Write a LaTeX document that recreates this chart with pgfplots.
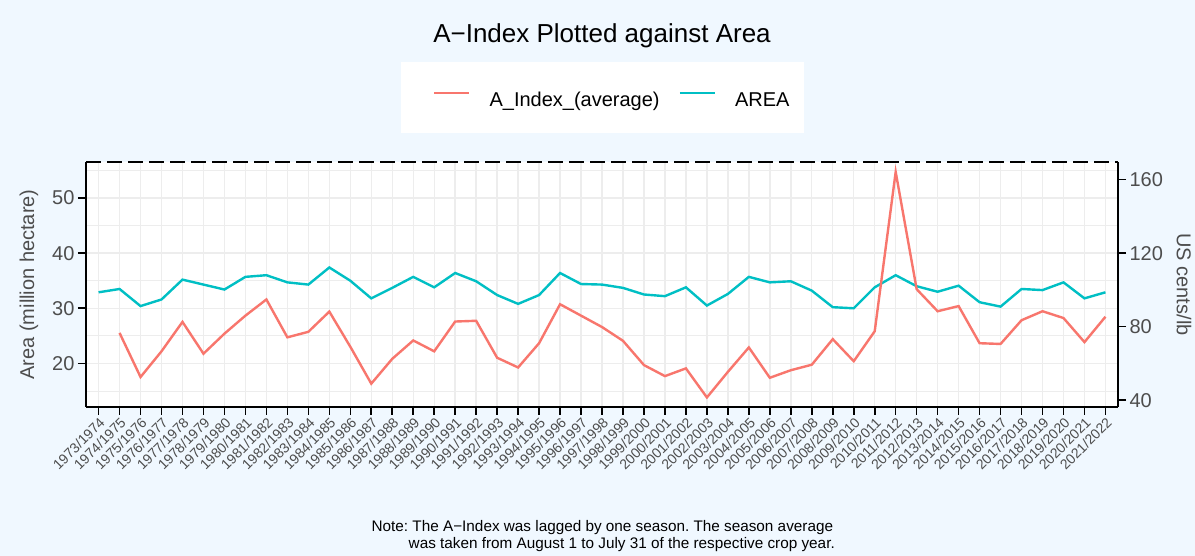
\documentclass[border=0pt]{standalone}
\usepackage{pgfplots}
\pgfplotsset{compat=1.18}
\usepackage{pgfplotstable}
\usepackage{fontspec}
\setmainfont{Liberation Sans}
\frenchspacing

\definecolor{bgblue}{HTML}{F0F8FF}
\definecolor{aidx}{HTML}{F8766D}
\definecolor{areac}{HTML}{00BFC4}
\definecolor{gridc}{HTML}{EDEDED}
\definecolor{txtgray}{HTML}{4D4D4D}

% cotton area, million hectare
\pgfplotstableread{
x area
0 32.9
1 33.5
2 30.4
3 31.6
4 35.2
5 34.3
6 33.4
7 35.7
8 36.0
9 34.7
10 34.3
11 37.4
12 35.0
13 31.8
14 33.7
15 35.7
16 33.8
17 36.4
18 34.9
19 32.4
20 30.8
21 32.4
22 36.4
23 34.4
24 34.3
25 33.7
26 32.5
27 32.2
28 33.8
29 30.5
30 32.6
31 35.7
32 34.7
33 34.9
34 33.2
35 30.2
36 30.0
37 33.8
38 36.0
39 34.0
40 33.0
41 34.1
42 31.1
43 30.3
44 33.5
45 33.3
46 34.7
47 31.8
48 32.9
}\areatable

% A-Index, US cents/lb (lagged one season)
\pgfplotstableread{
x aidx
1 76.6
2 52.6
3 66.6
4 82.6
5 65.3
6 76.2
7 86.0
8 94.8
9 74.2
10 77.2
11 88.2
12 69.1
13 49.0
14 62.5
15 72.5
16 66.6
17 82.8
18 83.2
19 63.1
20 57.8
21 71.0
22 92.2
23 86.0
24 79.8
25 72.3
26 59.1
27 53.1
28 57.3
29 41.5
30 55.4
31 68.7
32 52.2
33 56.3
34 59.3
35 73.2
36 61.2
37 77.5
38 164.2
39 100.4
40 88.4
41 91.2
42 71.0
43 70.6
44 83.5
45 88.4
46 84.7
47 71.6
48 85.4
}\aidxtable

\pgfplotsset{
  panel/.style={
    at={(86pt,149pt)}, anchor=south west,
    scale only axis, width=1032pt, height=245pt,
    xmin=-0.6, xmax=48.6,
    axis line style={black, line width=1.6pt},
    tick align=outside,
    major tick length=8pt, minor tick length=0pt,
    every tick/.style={black, line width=1.6pt},
    tick label style={font=\fontsize{20pt}{24pt}\selectfont, text=txtgray},
    /pgf/number format/assume math mode=true,
    label style={font=\fontsize{20pt}{24pt}\selectfont, text=txtgray},
  }
}

\begin{document}
\begin{tikzpicture}
\fill[bgblue] (0pt,0pt) rectangle (1195pt,556pt);
\fill[white] (400.7pt,422.7pt) rectangle (804pt,494.3pt);
\node[font=\fontsize{26pt}{30pt}\selectfont, anchor=base, inner sep=0pt] at (602pt,513.3pt) {A−Index Plotted against Area};

\begin{axis}[panel,
  ymin=12.1, ymax=56.53,
  axis x line*=bottom, axis y line*=left,
  axis background/.style={fill=white},
  xtick={0,...,48},
  xticklabels={1973/1974,1974/1975,1975/1976,1976/1977,1977/1978,1978/1979,1979/1980,
    1980/1981,1981/1982,1982/1983,1983/1984,1984/1985,1985/1986,1986/1987,1987/1988,
    1988/1989,1989/1990,1990/1991,1991/1992,1992/1993,1993/1994,1994/1995,1995/1996,
    1996/1997,1997/1998,1998/1999,1999/2000,2000/2001,2001/2002,2002/2003,2003/2004,
    2004/2005,2005/2006,2006/2007,2007/2008,2008/2009,2009/2010,2010/2011,2011/2012,
    2012/2013,2013/2014,2014/2015,2015/2016,2016/2017,2017/2018,2018/2019,2019/2020,
    2020/2021,2021/2022},
  xticklabel style={font=\fontsize{14pt}{16pt}\selectfont, rotate=45, anchor=north east, inner sep=1pt},
  ytick={20,30,40,50}, minor ytick={15,25,35,45,55},
  xmajorgrids, ymajorgrids, yminorgrids,
  major grid style={gridc, line width=1.4pt},
  minor grid style={gridc, line width=0.8pt},
  ylabel={Area (million hectare)},
  ylabel style={at={(axis description cs:-0.0552,0.5)}, anchor=center},
]
\addplot[areac, line width=2.4pt] table[x=x, y=area] {\areatable};
\end{axis}

\begin{axis}[panel,
  ymin=36.3, ymax=169.6,
  axis x line=none, axis y line*=right,
  ytick={40,80,120,160},
  ylabel={US cents/lb},
  ylabel style={at={(axis description cs:1.064,0.5)}, anchor=center, rotate=180},
  legend columns=2,
  legend image code/.code={\draw[#1] (0pt,7pt) -- (35pt,7pt);},
  legend style={at={(axis description cs:0.3362,1.2539)}, anchor=west,
    draw=none, fill=none, inner sep=0pt,
    font=\fontsize{20pt}{24pt}\selectfont,
    nodes={inner sep=0pt},
    /tikz/every odd column/.append style={column sep=19pt},
    /tikz/every even column/.append style={column sep=19pt}},
]
\addplot[aidx, line width=2.4pt] table[x=x, y=aidx] {\aidxtable};
\addlegendentry{A\_Index\_(average)}
\addlegendimage{areac, line width=2.4pt}
\addlegendentry{AREA}
\end{axis}

\draw[black, line width=1.6pt, dash pattern=on 15pt off 6pt] (86pt,394pt) -- (1118pt,394pt);

\node[font=\fontsize{15.3pt}{17pt}\selectfont, anchor=base east, inner sep=0pt] at (833.3pt,24.3pt)
  {Note: The A−Index was lagged by one season. The season average};
\node[font=\fontsize{15.3pt}{17pt}\selectfont, anchor=base east, inner sep=0pt] at (835pt,7.7pt)
  {was taken from August 1 to July 31 of the respective crop year.};
\end{tikzpicture}
\end{document}
